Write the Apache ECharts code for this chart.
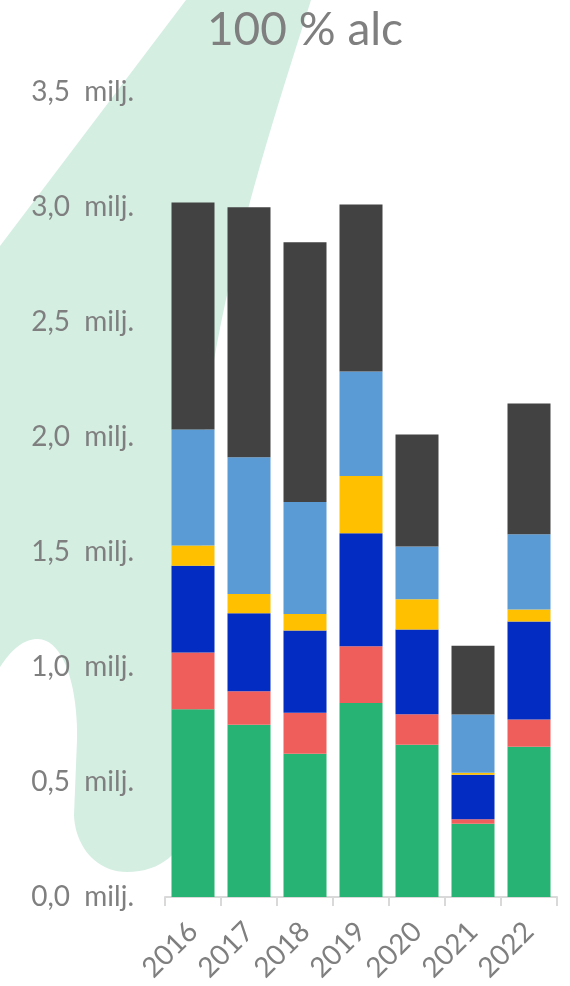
<!DOCTYPE html>
<html>
<head>
<meta charset="utf-8">
<script src="https://cdn.jsdelivr.net/npm/echarts@6/dist/echarts.min.js"></script>
<style>
  html, body { margin: 0; padding: 0; background: #fff; }
  #chart { width: 570px; height: 986px; }
</style>
</head>
<body>
<div id="chart"></div>
<script>
var chart = echarts.init(document.getElementById("chart"));

var years = ['2016', '2017', '2018', '2019', '2020', '2021', '2022'];
// values in miljoen liter 100 % alc, stacked bottom -> top
var greenData = [0.816, 0.749, 0.623, 0.844, 0.662, 0.318, 0.653];
var redData = [0.247, 0.146, 0.178, 0.246, 0.133, 0.020, 0.119];
var blueData = [0.377, 0.339, 0.358, 0.492, 0.368, 0.193, 0.426];
var yellowData = [0.088, 0.083, 0.071, 0.248, 0.132, 0.009, 0.052];
var lightBlueData = [0.505, 0.595, 0.487, 0.455, 0.229, 0.253, 0.327];
var greyData = [0.987, 1.087, 1.130, 0.726, 0.487, 0.299, 0.569];

var seriesNames = ['Reeks 1', 'Reeks 2', 'Reeks 3', 'Reeks 4', 'Reeks 5', 'Reeks 6'];
var seriesData = [greenData, redData, blueData, yellowData, lightBlueData, greyData];
var seriesColors = ['#27B373', '#F05E5C', '#032DC2', '#FFC000', '#5B9BD5', '#424242'];

var fontFam = 'Lato, "Open Sans", sans-serif';
var textGrey = '#7f7f7f';

// background blob outline: start point + cubic segments [c1, c2, end] (null c = straight line)
var blobStart = [186, 0];
var blobSegs = [
    [null, null, [311, 0]],
    [[280, 100], [225, 260], [205, 420]],
    [null, null, [195, 800]],
    [[192, 840], [170, 872], [127, 872]],
    [[95, 872], [75, 845], [74, 815]],
    [null, null, [77, 740]],
    [[78, 690], [65, 640], [38, 639]],
    [[20, 639], [8, 655], [0, 667]],
    [null, null, [0, 246]]
];

function blobPoints() {
    var pts = [blobStart];
    var p0 = blobStart;
    blobSegs.forEach(function (s) {
        if (!s[0]) {
            pts.push(s[2]);
        } else {
            for (var k = 1; k <= 20; k++) {
                var t = k / 20, u = 1 - t;
                pts.push([
                    u * u * u * p0[0] + 3 * u * u * t * s[0][0] + 3 * u * t * t * s[1][0] + t * t * t * s[2][0],
                    u * u * u * p0[1] + 3 * u * u * t * s[0][1] + 3 * u * t * t * s[1][1] + t * t * t * s[2][1]
                ]);
            }
        }
        p0 = s[2];
    });
    return pts;
}

var series = seriesData.map(function (d, i) {
    return {
        name: seriesNames[i],
        type: 'bar',
        stack: 'totaal',
        data: d,
        barWidth: 43,
        itemStyle: { color: seriesColors[i] },
        z: 2
    };
});

chart.setOption({
    animation: false,
    backgroundColor: '#ffffff',
    title: {
        text: '100 % alc',
        left: 300,
        textAlign: 'center',
        top: 2,
        textStyle: { color: textGrey, fontFamily: fontFam, fontSize: 46, fontWeight: 'normal' }
    },
    graphic: [{
        type: 'polygon',
        z: -10,
        silent: true,
        shape: { points: blobPoints() },
        style: { fill: '#D4EEE2' }
    }],
    grid: { left: 165, right: 13, top: 92, bottom: 89 },
    xAxis: {
        type: 'category',
        data: years,
        axisLine: { lineStyle: { color: '#d9d9d9', width: 2 } },
        axisTick: { show: true, length: 9, lineStyle: { color: '#d9d9d9', width: 2 } },
        axisLabel: {
            rotate: 45,
            margin: 30,
            color: textGrey,
            fontFamily: fontFam,
            fontSize: 28
        }
    },
    yAxis: {
        type: 'value',
        min: 0,
        max: 3.5,
        interval: 0.5,
        splitLine: { show: false },
        axisLine: { show: false },
        axisTick: { show: false },
        axisLabel: {
            margin: 31,
            color: textGrey,
            fontFamily: fontFam,
            fontSize: 28,
            formatter: function (v) {
                return v.toFixed(1).replace('.', ',') + '  milj.';
            }
        }
    },
    series: series
});
</script>
</body>
</html>
